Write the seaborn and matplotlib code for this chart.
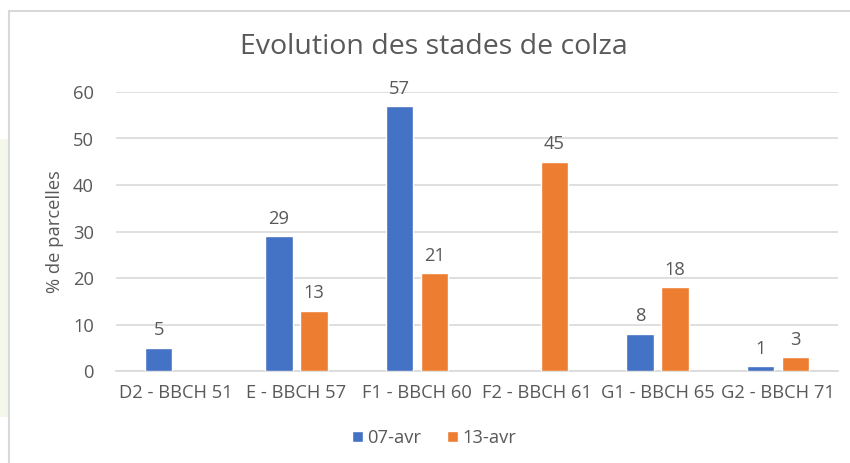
import numpy as np
import pandas as pd
import matplotlib
matplotlib.use("Agg")
import matplotlib.pyplot as plt
from matplotlib.patches import Rectangle
import seaborn as sns

# data
stages = ["D2 - BBCH 51", "E - BBCH 57", "F1 - BBCH 60",
          "F2 - BBCH 61", "G1 - BBCH 65", "G2 - BBCH 71"]
dates = ["07-avr", "13-avr"]
pct_07 = [5, 29, 57, np.nan, 8, 1]
pct_13 = [np.nan, 13, 21, 45, 18, 3]

df = pd.DataFrame({
    "stade": stages * 2,
    "date": [dates[0]] * len(stages) + [dates[1]] * len(stages),
    "pct": pct_07 + pct_13,
}).dropna()

TXT = "#595959"
FS = 13.2
sns.set_theme(style="white")
plt.rcParams["font.family"] = ["Open Sans", "DejaVu Sans"]

fig = plt.figure(figsize=(8.5, 4.63), dpi=100)
fig.patch.set_facecolor("white")

# faint green backdrop on the left edge and chart frame
fig.patches.append(Rectangle((0, 0.1), 9 / 850, 0.6, transform=fig.transFigure,
                             facecolor="#f3f8ea", edgecolor="none", zorder=-2))
fig.patches.append(Rectangle((9 / 850, -0.1), 1.2, 1.1 - 11 / 463,
                             transform=fig.transFigure, facecolor="none",
                             edgecolor="#d9d9d9", linewidth=1.5, zorder=-1))

ax = fig.add_axes([116 / 850, 1 - 371 / 463, 722 / 850, (371 - 92) / 463])
ax.set_facecolor("none")

sns.barplot(data=df, x="stade", y="pct", hue="date", order=stages,
            hue_order=dates, palette=["#4472C4", "#ED7D31"], saturation=1,
            width=0.58, gap=0.22, errorbar=None, ax=ax, zorder=3)

for c in ax.containers:
    ax.bar_label(c, fmt="%g", padding=6, color=TXT, fontsize=FS)

ax.set_ylim(0, 60)
ax.set_yticks(range(0, 61, 10))
ax.set_xlim(-0.5, len(stages) - 0.5)
ax.yaxis.grid(True, color="#d9d9d9", linewidth=1.2, zorder=0)
ax.set_axisbelow(True)
for s in ["top", "right", "left"]:
    ax.spines[s].set_visible(False)
ax.spines["bottom"].set_color("#d9d9d9")
ax.spines["bottom"].set_linewidth(1.2)
ax.tick_params(axis="both", length=0, colors=TXT, labelsize=FS)
ax.tick_params(axis="x", pad=9)
ax.tick_params(axis="y", pad=16)
ax.set_xlabel("")
ax.set_ylabel("% de parcelles", color=TXT, fontsize=FS, labelpad=6)

fig.text(434 / 850, 1 - 47 / 463, "Evolution des stades de colza",
         ha="center", va="center", color=TXT, fontsize=20.5)

leg = ax.legend(loc="center", bbox_to_anchor=(434 / 850, 1 - 438 / 463),
                bbox_transform=fig.transFigure, ncol=2, frameon=False,
                fontsize=FS, handlelength=0.6, handleheight=0.6,
                handletextpad=0.25, columnspacing=1.4)
for t in leg.get_texts():
    t.set_color(TXT)

fig.savefig("out.png", dpi=100)
